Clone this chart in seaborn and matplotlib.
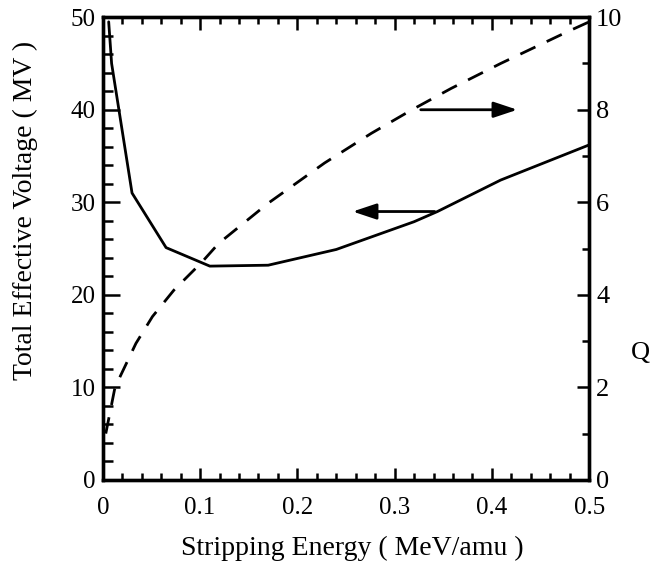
import matplotlib
matplotlib.use("Agg")
import matplotlib.pyplot as plt
from matplotlib.ticker import MultipleLocator
import seaborn as sns
import pandas as pd

# data
energy_v = [0.006, 0.009, 0.030, 0.065, 0.110, 0.170, 0.240, 0.320, 0.344, 0.409, 0.500]
voltage = [49.5, 45.0, 31.0, 25.1, 23.1, 23.2, 24.9, 27.9, 29.0, 32.4, 36.2]

energy_q = [0.003, 0.012, 0.017, 0.034, 0.051, 0.073, 0.102, 0.119, 0.170, 0.228,
            0.276, 0.317, 0.358, 0.409, 0.477, 0.500]
charge_q = [1.0, 1.95, 2.2, 2.95, 3.53, 4.1, 4.71, 5.11, 5.98, 6.85,
            7.49, 7.99, 8.46, 9.0, 9.68, 9.9]

x_ticks = [0, 0.1, 0.2, 0.3, 0.4, 0.5]
x_tick_labels = ["0", "0.1", "0.2", "0.3", "0.4", "0.5"]
left_ticks = [0, 10, 20, 30, 40, 50]
right_ticks = [0, 2, 4, 6, 8, 10]

sns.set_theme(style="white")
plt.rcParams["font.family"] = ["Liberation Serif", "DejaVu Serif"]

df_v = pd.DataFrame({"E": energy_v, "V": voltage})
df_q = pd.DataFrame({"E": energy_q, "Q": charge_q})

fig = plt.figure(figsize=(6.51, 5.74), dpi=100)
ax = fig.add_axes([0.158, 0.164, 0.747, 0.806])
ax2 = ax.twinx()

sns.lineplot(data=df_v, x="E", y="V", ax=ax, color="black", linewidth=2.0, sort=False)
sns.lineplot(data=df_q, x="E", y="Q", ax=ax2, color="black", linewidth=2.0, sort=False,
             linestyle=(0, (6, 4.5)))

ax.set_xlim(0, 0.5)
ax.set_ylim(0, 50)
ax2.set_ylim(0, 10)

ax.set_xticks(x_ticks)
ax.set_xticklabels(x_tick_labels)
ax.set_yticks(left_ticks)
ax2.set_yticks(right_ticks)
ax.xaxis.set_minor_locator(MultipleLocator(0.02))
ax.yaxis.set_minor_locator(MultipleLocator(2))
ax2.yaxis.set_minor_locator(MultipleLocator(1))

fs = 18
ax.tick_params(axis="x", which="both", direction="in", top=True, bottom=True,
               labelsize=fs, pad=12, colors="black", width=1.8)
ax.tick_params(axis="x", which="major", length=9)
ax.tick_params(axis="x", which="minor", length=5)
ax.tick_params(axis="y", which="both", direction="in", left=True, right=False,
               labelsize=fs, pad=5, colors="black", width=1.8)
ax.tick_params(axis="y", which="major", length=12)
ax.tick_params(axis="y", which="minor", length=7)
ax2.tick_params(axis="y", which="both", direction="in", right=True, left=False,
                labelsize=fs + 1, pad=5, colors="black", width=1.8)
ax2.tick_params(axis="y", which="major", length=9)
ax2.tick_params(axis="y", which="minor", length=5)

for a in (ax, ax2):
    for s in a.spines.values():
        s.set_linewidth(2.4)
        s.set_color("black")

ax.set_xlabel("Stripping Energy ( MeV/amu )", fontsize=20, color="black")
ax.xaxis.set_label_coords(0.512, -0.12)
ax.set_ylabel("Total Effective Voltage ( MV )", fontsize=20, color="black")
ax.yaxis.set_label_coords(-0.134, 0.583)
ax2.set_ylabel("Q", fontsize=19, color="black", rotation=0)
ax2.yaxis.set_label_coords(1.105, 0.297)

# arrows pointing to the relevant axis
ax.annotate("", xy=(0.429, 40.0), xytext=(0.324, 40.0),
            arrowprops=dict(arrowstyle="-|>,head_length=1.2,head_width=0.4", color="black", lw=2.0))
ax.annotate("", xy=(0.254, 29.0), xytext=(0.344, 29.0),
            arrowprops=dict(arrowstyle="-|>,head_length=1.2,head_width=0.4", color="black", lw=2.0))

ax.grid(False)
ax2.grid(False)
fig.savefig("out.png", dpi=100, facecolor="white")
